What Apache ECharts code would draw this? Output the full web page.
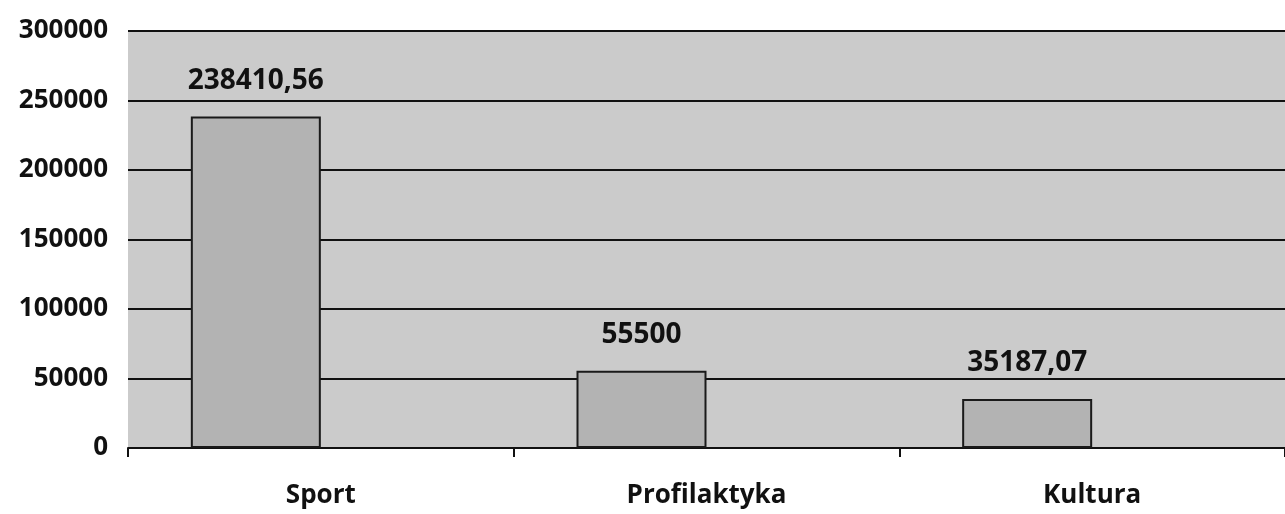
<!DOCTYPE html>
<html>
<head>
<meta charset="utf-8">
<script src="https://cdn.jsdelivr.net/npm/echarts@6/dist/echarts.min.js"></script>
<style>
	html, body { margin: 0; padding: 0; background: #fff; }
	#chart { width: 1285px; height: 514px; }
</style>
</head>
<body>
<div id="chart"></div>
<script>
// dane z wykresu
var categories = ['Sport', 'Profilaktyka', 'Kultura'];
var values = [238410.56, 55500, 35187.07];
var valueLabels = ['238410,56', '55500', '35187,07'];
// pusta druga seria (w oryginale słupki są przesunięte w lewo)
var emptySeries = ['-', '-', '-'];
var yTicks = [0, 50000, 100000, 150000, 200000, 250000, 300000];

var chart = echarts.init(document.getElementById('chart'));

var option = {
	animation: false,
	backgroundColor: '#ffffff',
	textStyle: { fontFamily: 'Open Sans' },
	grid: {
		left: 128,
		right: 0,
		top: 31,
		bottom: 66,
		show: true,
		backgroundColor: '#cbcbcb',
		borderWidth: 0
	},
	xAxis: {
		type: 'category',
		data: categories,
		axisLine: { lineStyle: { color: '#111', width: 2 } },
		axisTick: { show: true, alignWithLabel: false, length: 9, lineStyle: { color: '#111', width: 2 } },
		axisLabel: {
			color: '#111',
			fontSize: 26,
			fontWeight: 'bold',
			margin: 35
		}
	},
	yAxis: {
		type: 'value',
		min: yTicks[0],
		max: yTicks[yTicks.length - 1],
		interval: 50000,
		axisLine: { show: false },
		axisTick: { show: false },
		splitLine: { lineStyle: { color: '#111', width: 2 } },
		axisLabel: {
			color: '#111',
			fontSize: 26,
			fontWeight: 'bold',
			margin: 20,
			formatter: function (v) { return String(v); }
		}
	},
	series: [
		{
			type: 'bar',
			data: values,
			barWidth: 130,
			barGap: '0%',
			itemStyle: { color: '#b3b3b3', borderColor: '#1a1a1a', borderWidth: 2 },
			label: {
				show: true,
				position: 'top',
				distance: 22,
				color: '#111',
				fontSize: 28,
				fontWeight: 'bold',
				formatter: function (p) { return valueLabels[p.dataIndex]; }
			}
		},
		{
			type: 'bar',
			data: emptySeries,
			barWidth: 130
		}
	]
};

chart.setOption(option);
</script>
</body>
</html>
